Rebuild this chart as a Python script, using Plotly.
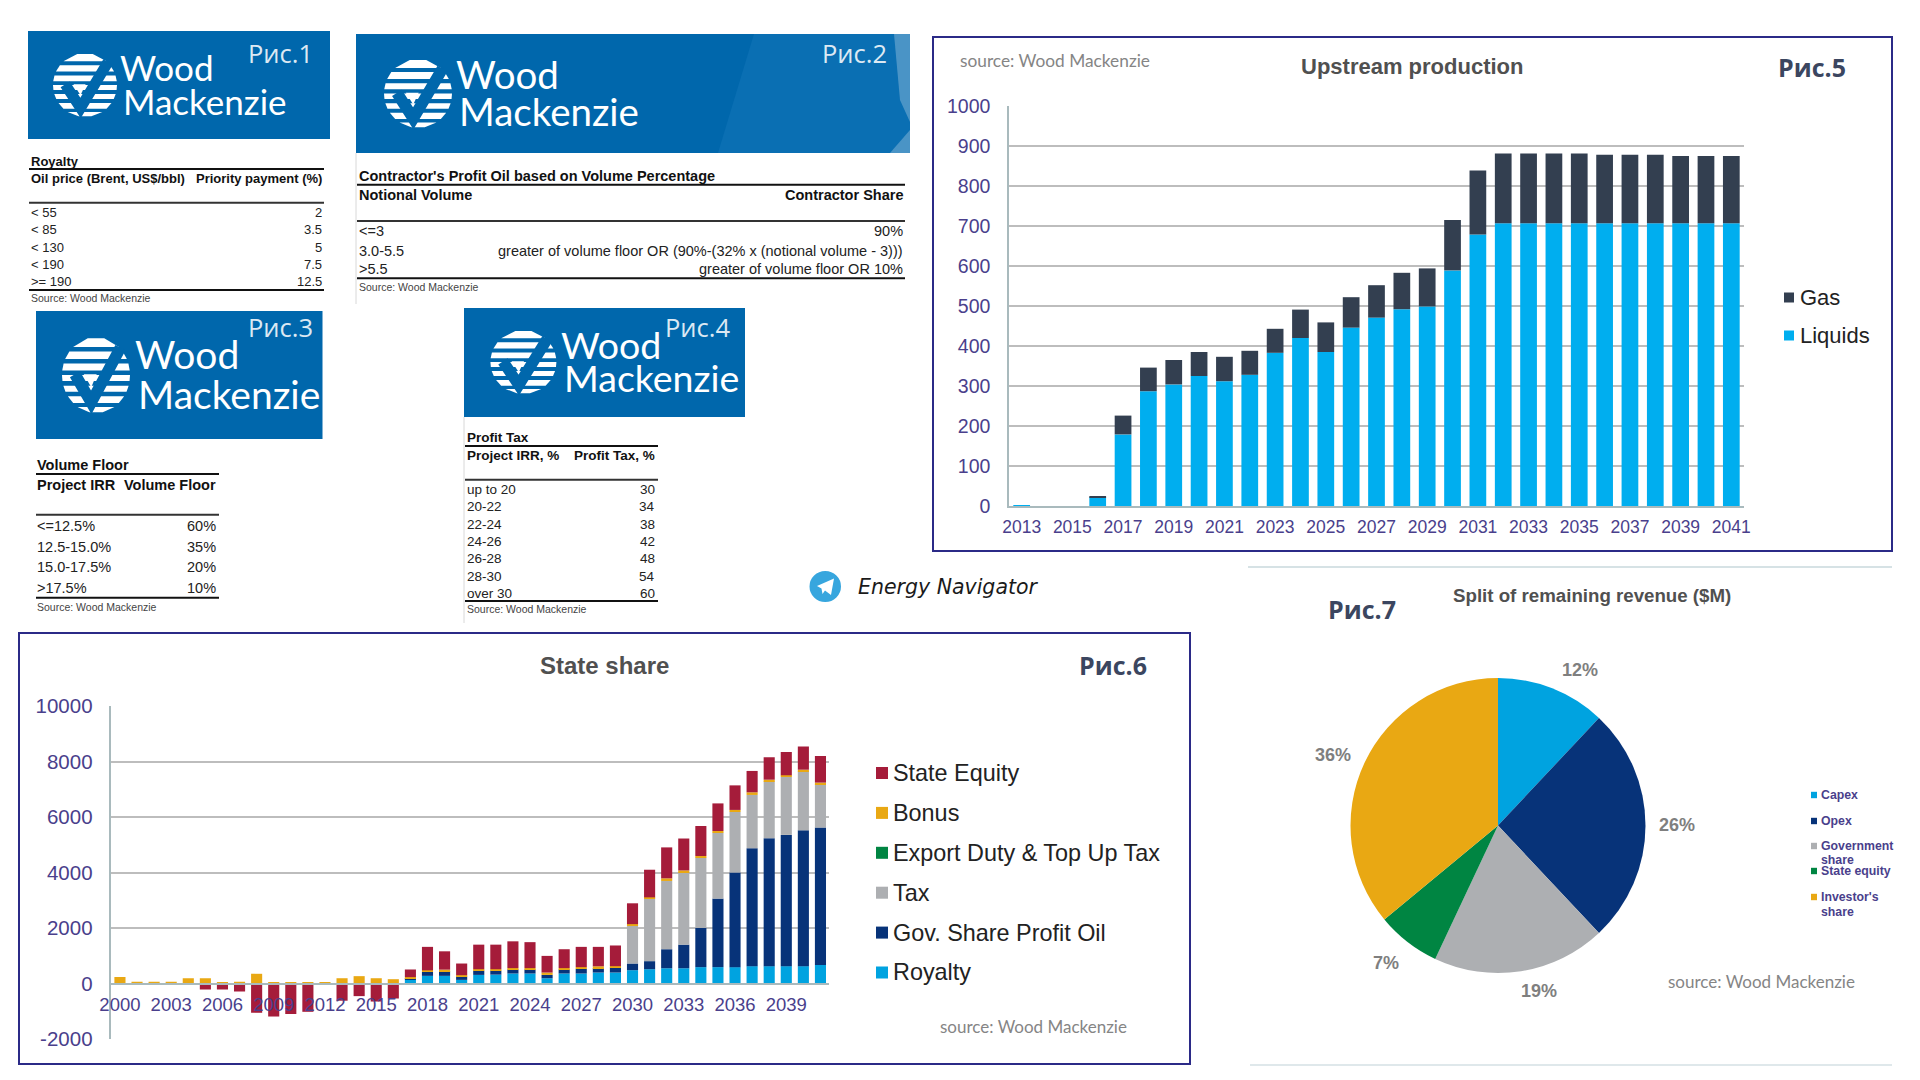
import math
import plotly.graph_objects as go

# ---------- data ----------
upstream_years = list(range(2013, 2042))
upstream_ticks = list(range(2013, 2042, 2))
liquids = [1, 0, 0, 22, 179, 287, 304, 325, 312, 328, 383, 420, 385, 446, 471, 492, 499, 589, 679,
           707, 707, 707, 707, 707, 707, 707, 707, 707, 707]
gas = [0, 0, 0, 2, 47, 59, 61, 60, 61, 60, 60, 71, 74, 76, 81, 91, 95, 126, 160,
       174, 174, 174, 174, 171, 171, 171, 168, 168, 168]
upstream_yticks = list(range(0, 1001, 100))

state_years = list(range(2000, 2042))
state_ticks = list(range(2000, 2040, 3))
state_yticks = list(range(-2000, 10001, 2000))
royalty = [0]*17 + [130, 275, 275, 130, 310, 320, 360, 360, 190, 360, 360, 395, 395, 480, 515,
                    550, 550, 590, 590, 590, 625, 625, 625, 625, 670]
gov_share = [0]*17 + [60, 155, 165, 120, 155, 145, 145, 145, 120, 145, 170, 155, 180, 240, 290,
                      685, 850, 1415, 2470, 3410, 4250, 4610, 4730, 4895, 4950]
tax = [0]*30 + [1380, 2255, 2460, 2615, 2530, 2375, 2185, 1920, 2050, 2090, 2125, 1560]
export_duty = [0]*42
bonus = [230, 60, 60, 60, 190, 190, 50, 60, 350, 30, 30, 30, 50, 190, 265, 190, 155,
         40, 45, 60, 50, 50, 50, 50, 50, 85, 50, 60, 70, 50, 40, 45,
         95, 60, 60, 60, 70, 95, 60, 60, 60, 60]
state_equity = [0, 0, 0, 0, 0, -215, -215, -290, -1055, -1190, -1100, -1020, 0, -620, -455, -650, -540,
                275, 845, 660, 420, 885, 885, 965, 935, 600, 680, 730, 700, 745, 750, 995,
                1115, 1150, 1080, 995, 885, 770, 805, 840, 840, 960]

pie_labels = ["Capex", "Opex", "Government share", "State equity", "Investor's share"]
pie_values = [12, 26, 19, 7, 36]

royalty_rows = [("< 55", "2"), ("< 85", "3.5"), ("< 130", "5"), ("< 190", "7.5"), (">= 190", "12.5")]
contractor_rows = [("<=3", "90%"),
                   ("3.0-5.5", "greater of volume floor OR (90%-(32% x (notional volume - 3)))"),
                   (">5.5", "greater of volume floor OR 10%")]
floor_rows = [("<=12.5%", "60%"), ("12.5-15.0%", "35%"), ("15.0-17.5%", "20%"), (">17.5%", "10%")]
profit_rows = [("up to 20", "30"), ("20-22", "34"), ("22-24", "38"), ("24-26", "42"),
               ("26-28", "48"), ("28-30", "54"), ("over 30", "60")]

# ---------- helpers (pixel layout -> paper coords) ----------
W, H = 1920, 1080
C_BLUE = "#00AEEF"; C_GAS = "#333F50"
C_ROY = "#00A3E0"; C_GOV = "#073379"; C_TAX = "#ADAFB2"; C_EXP = "#008542"; C_BON = "#E9A813"; C_EQ = "#A51C3A"
C_TICK = "#4A3F8C"; C_GRID = "#BDBDBD"; C_AXIS = "#A9BABD"; C_FRAME = "#2B2A87"
C_BANNER = "#0067AC"; C_PIC = "#3B4660"; C_SRC = "#858585"; C_TITLE = "#505050"
SANS = "Liberation Sans"

px = lambda x: x / W
py = lambda y: 1 - y / H
shapes, annos = [], []

def text(x, y, s, size=13, color="#111", anchor="left", font=SANS, bold=False, italic=False, weight=None):
    f = dict(family=font, size=size, color=color)
    if weight:
        f["weight"] = weight
    if italic:
        f["style"] = "italic"
    annos.append(dict(xref="paper", yref="paper", x=px(x), y=py(y), text=f"<b>{s}</b>" if bold else s,
                      showarrow=False, xanchor=anchor, yanchor="middle", font=f, borderpad=0, borderwidth=0))

def rect(x0, y0, x1, y1, fill=None, line=None, lw=0):
    shapes.append(dict(type="rect", xref="paper", yref="paper", x0=px(x0), y0=py(y0), x1=px(x1), y1=py(y1),
                       fillcolor=fill or "rgba(0,0,0,0)", line=dict(color=line or "rgba(0,0,0,0)", width=lw)))

def hline(x0, x1, y, color="#111", lw=2):
    shapes.append(dict(type="line", xref="paper", yref="paper", x0=px(x0), x1=px(x1), y0=py(y), y1=py(y),
                       line=dict(color=color, width=lw)))

def vline(x, y0, y1, color="#D8D8D8", lw=1):
    shapes.append(dict(type="line", xref="paper", yref="paper", x0=px(x), x1=px(x), y0=py(y0), y1=py(y1),
                       line=dict(color=color, width=lw)))

def path(points, fill=None, line=None, lw=0, close=True):
    d = "M" + " L".join(f"{px(a):.5f},{py(b):.5f}" for a, b in points) + (" Z" if close else "")
    shapes.append(dict(type="path", xref="paper", yref="paper", path=d,
                       fillcolor=fill or "rgba(0,0,0,0)", line=dict(color=line or "rgba(0,0,0,0)", width=lw)))

def globe(cx, cy, rx, ry):
    # striped globe with tick mark
    edges = [(-0.97, -0.74), (-0.62, -0.42), (-0.30, -0.12), (0.0, 0.16), (0.28, 0.44), (0.56, 0.74), (0.84, 0.98)]
    for a, b in edges:
        wa = math.sqrt(max(0, 1 - a*a)); wb = math.sqrt(max(0, 1 - b*b))
        path([(cx - rx*wa, cy + ry*a), (cx + rx*wa, cy + ry*a), (cx + rx*wb, cy + ry*b), (cx - rx*wb, cy + ry*b)], fill="#FFFFFF")
    k = [(-0.62, -0.02), (-0.14, 0.72), (0.72, -0.72)]
    path([(cx + rx*a, cy + ry*b) for a, b in k], line=C_BANNER, lw=rx*0.34, close=False)
    path([(cx + rx*-0.36, cy + ry*-0.02), (cx + rx*0.02, cy + ry*-0.02), (cx + rx*-0.14, cy + ry*0.32)], fill="#FFFFFF")

extras = []
def banner(box, pic, pic_c, wood, mack, g, size):
    rect(box[0], box[1], box[2], box[3], fill=C_BANNER)
    extras.append((pic, pic_c, wood, mack, g, size))

def banner_marks():
    for pic, pic_c, wood, mack, g, size in extras:
        text(pic_c[0], pic_c[1], pic, size=pic_c[2], color="#DCE9F3", anchor="center", font="Open Sans")
        text(wood[0], wood[1], "Wood", size=size, color="#FFFFFF", font="Lato")
        text(mack[0], mack[1], "Mackenzie", size=size, color="#FFFFFF", font="Lato")
        globe(*g)

def table(x0, x1, tx, rx, title, ty, l1, header, hy, l2, rows, ry, l3, sy, size=13):
    text(tx, ty, title, size=size, bold=True)
    hline(x0, x1, l1)
    text(tx, hy, header[0], size=size, bold=True)
    text(rx, hy, header[1], size=size, bold=True, anchor="right")
    hline(x0, x1, l2, color="#333")
    for (a, b), y in zip(rows, ry):
        text(tx, y, a, size=size, color="#222")
        text(rx, y, b, size=size, color="#222", anchor="right")
    hline(x0, x1, l3)
    text(tx, sy, "Source: Wood Mackenzie", size=10.5, color="#444")

# ---------- banners and tables ----------
banner((28, 31, 330, 139), "Рис.1", (280, 53, 25.5), (120, 67), (123, 101), (85, 85, 32, 32), 35)
banner((356, 34, 910, 153), "Рис.2", (854, 53, 25.5), (456, 74), (459, 111), (418, 93.5, 34, 34.5), 38.5)
path([(754, 34), (910, 34), (910, 153), (718, 153)], fill="#0A6FB3")
path([(894, 34), (910, 34), (910, 122), (900, 100)], fill="#4A94C6")
path([(890, 153), (910, 153), (910, 130)], fill="#4A94C6")
banner((36, 311, 322.5, 439), "Рис.3", (280, 327, 25.5), (135, 354), (138, 394), (96, 375, 34, 38), 39)
banner((464, 308, 745, 417), "Рис.4", (697, 327, 25.5), (561, 344), (564, 377), (523.4, 362, 33, 32), 37.5)
banner_marks()
vline(356, 153, 304)
vline(464, 417, 623)

table(29, 324, 30.5, 321.6, "Royalty", 161, 169, ("Oil price (Brent, US$/bbl)", "Priority payment (%)"), 178.7, 202.7,
      royalty_rows, [212.3, 229.7, 247, 264, 281.7], 290, 298)
table(357, 905, 359, 902.6, "Contractor's Profit Oil based on Volume Percentage", 176, 184.7,
      ("Notional Volume", "Contractor Share"), 194.7, 221, contractor_rows, [231.3, 250.7, 269.3], 278.3, 286.7, size=14.5)
table(36, 219, 37.4, 216, "Volume Floor", 465, 474, ("Project IRR", "Volume Floor"), 485.3, 514.7,
      floor_rows, [526, 546.7, 567.3, 588], 597.7, 607, size=14.5)
table(465, 658, 467, 655, "Profit Tax", 437.7, 446, ("Project IRR, %", "Profit Tax, %"), 455.3, 479.7,
      profit_rows, [489.3, 506.7, 524, 541.3, 558.7, 576, 593.3], 601, 609.3, size=13.5)

# ---------- telegram tag ----------
shapes.append(dict(type="circle", xref="paper", yref="paper", x0=px(809.5), x1=px(841), y0=py(571), y1=py(602),
                   fillcolor="#37A6DE", line=dict(color="#37A6DE", width=0)))
path([(817, 586), (834, 578.5), (831, 595), (825, 590.5), (822.5, 594), (821.5, 588.5)], fill="#FFFFFF")
text(858, 586.5, "Energy Navigator", size=20.5, color="#1A1A1A", font="DejaVu Sans", italic=True)

# ---------- frames ----------
rect(933, 37, 1892, 551, line=C_FRAME, lw=2)
rect(19, 633, 1190, 1064, line=C_FRAME, lw=2)
hline(1248, 1892, 567, color="#C9D8DD", lw=1.5)
hline(1250, 1892, 1065, color="#D5E0E4", lw=1.5)

# ---------- chart texts ----------
text(960, 61, "source: Wood Mackenzie", size=17.3, color=C_SRC, font="Lato")
text(1412, 67, "Upstream production", size=22, color=C_TITLE, anchor="center", bold=True)
text(1812, 67, "Рис.5", size=25, color=C_PIC, anchor="center", font="Open Sans", bold=True)
text(604, 665, "State share", size=24, color=C_TITLE, anchor="center", bold=True)
text(1113, 665, "Рис.6", size=25, color=C_PIC, anchor="center", font="Open Sans", bold=True)
text(940, 1026, "source: Wood Mackenzie", size=17, color=C_SRC, font="Lato")
text(1592, 595, "Split of remaining revenue ($M)", size=18.7, color=C_TITLE, anchor="center", bold=True)
text(1362, 609, "Рис.7", size=25, color=C_PIC, anchor="center", font="Open Sans", bold=True)
text(1668, 981, "source: Wood Mackenzie", size=17, color=C_SRC, font="Lato")

# ---------- manual legends ----------
def legend_items(items, sx0, sx1, tx, y0, step, size, color="#222", bold=False):
    for i, (name, col) in enumerate(items):
        y = y0 + i * step
        h = (sx1 - sx0) / 2
        rect(sx0, y - h, sx1, y + h, fill=col)
        text(tx, y, name, size=size, color=color, bold=bold)

legend_items([("Gas", C_GAS), ("Liquids", C_BLUE)], 1784, 1794, 1800, 297.5, 38, 22)
legend_items([("State Equity", C_EQ), ("Bonus", C_BON), ("Export Duty &amp; Top Up Tax", C_EXP), ("Tax", C_TAX),
              ("Gov. Share Profit Oil", C_GOV), ("Royalty", C_ROY)], 876, 888, 893, 773, 39.9, 23.4)
pie_colors = ["#00A3E0", "#073379", "#ADAFB2", "#008542", "#E9A813"]
for (lab, col, ys) in [("Capex", pie_colors[0], [795]), ("Opex", pie_colors[1], [821]),
                       ("Government<br>share", pie_colors[2], [846, 860]), ("State equity", pie_colors[3], [871]),
                       ("Investor's<br>share", pie_colors[4], [897, 912])]:
    rect(1811, ys[0] - 3.2, 1817, ys[0] + 3.2, fill=col)
    for part, y in zip(lab.split("<br>"), ys):
        text(1820.5, y, part, size=12.3, color=C_TICK, bold=True)

for v, (lx, ly) in zip(pie_values, [(1580, 670), (1677, 825), (1539, 991), (1385.5, 963), (1332.5, 755)]):
    text(lx, ly, f"{v}%", size=18, color="#7F7F7F", anchor="center", bold=True)

# ---------- traces ----------
fig = go.Figure()
fig.add_bar(x=upstream_years, y=liquids, name="Liquids", marker=dict(color=C_BLUE, line_width=0), width=0.66,
            xaxis="x", yaxis="y", showlegend=False)
fig.add_bar(x=upstream_years, y=gas, name="Gas", marker=dict(color=C_GAS, line_width=0), width=0.66,
            xaxis="x", yaxis="y", showlegend=False)
for name, vals, col in [("Royalty", royalty, C_ROY), ("Gov. Share Profit Oil", gov_share, C_GOV), ("Tax", tax, C_TAX),
                        ("Export Duty & Top Up Tax", export_duty, C_EXP), ("Bonus", bonus, C_BON), ("State Equity", state_equity, C_EQ)]:
    fig.add_bar(x=state_years, y=vals, name=name, marker=dict(color=col, line_width=0), width=0.65,
                xaxis="x2", yaxis="y2", showlegend=False)
fig.add_pie(labels=pie_labels, values=pie_values, sort=False, direction="clockwise", rotation=0,
            marker=dict(colors=pie_colors, line_width=0), textinfo="none",
            domain=dict(x=[px(1350.5), px(1645.5)], y=[py(973), py(678)]), showlegend=False)

axis_y = dict(showgrid=True, gridcolor=C_GRID, gridwidth=1.5, zeroline=False, showline=True, linecolor=C_AXIS, linewidth=1.5,
              ticks="", ticklabelstandoff=13)
zero6 = 1039 - (1039 - 706) / 6
fig.update_layout(
    width=W, height=H, margin=dict(l=0, r=0, t=0, b=0, autoexpand=False), paper_bgcolor="#FFFFFF", plot_bgcolor="rgba(0,0,0,0)",
    barmode="relative", shapes=shapes, annotations=annos, font=dict(family=SANS),
    xaxis=dict(domain=[px(1009), px(1744)], range=[2012.5, 2041.5], tickmode="array", tickvals=upstream_ticks,
               ticktext=[str(v) for v in upstream_ticks],
               tickfont=dict(size=17.5, color=C_TICK), showgrid=False, zeroline=False, showline=True, linecolor=C_AXIS,
               linewidth=1.5, ticks="", ticklabelstandoff=4, anchor="y", automargin=False),
    yaxis=dict(domain=[py(506), py(106)], range=[0, 1000], tickmode="array", tickvals=upstream_yticks,
               ticktext=[str(v) for v in upstream_yticks], automargin=False,
               tickfont=dict(size=19.5, color=C_TICK), anchor="x", **axis_y),
    xaxis2=dict(domain=[px(111.4), px(829)], range=[1999.5, 2041.5], tickmode="array", tickvals=state_ticks,
                ticktext=[str(v) for v in state_ticks], automargin=False,
                tickfont=dict(size=18.5, color=C_TICK), showgrid=False, zeroline=False, showline=True, linecolor=C_AXIS,
                linewidth=1.5, ticks="", ticklabelstandoff=5, anchor="free", position=py(zero6)),
    yaxis2=dict(domain=[py(1039), py(706)], range=[-2000, 10000], tickmode="array", tickvals=state_yticks,
                ticktext=[str(v) for v in state_yticks], automargin=False,
                tickfont=dict(size=20.5, color=C_TICK), anchor="x2", **axis_y),
)
fig.write_html("out.html", config=dict(displayModeBar=False), post_script='document.body.style.margin="0";')
